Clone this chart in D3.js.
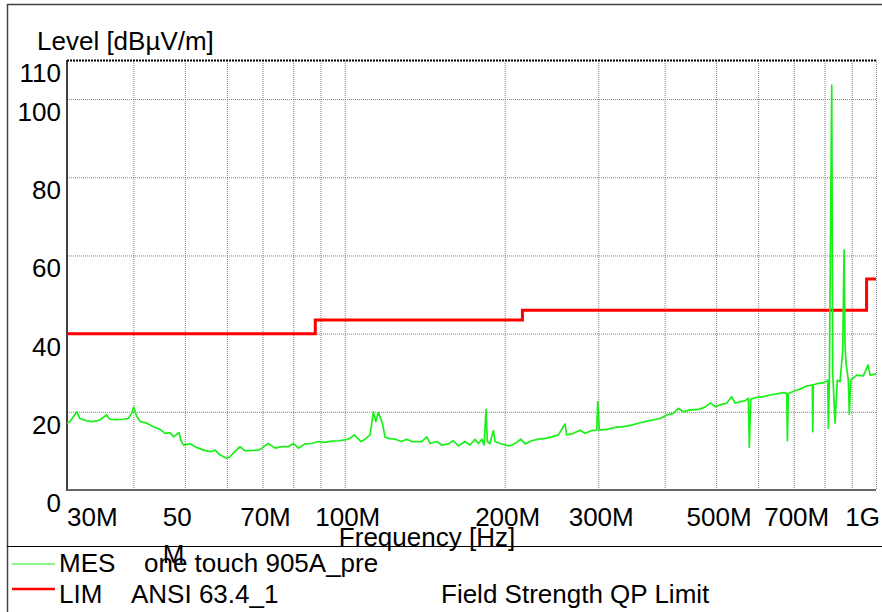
<!doctype html>
<html lang="en">
<head>
<meta charset="UTF-8">
<title>Level [dBµV/m]</title>
<style>
  body { margin: 0; background: #fff; }
  svg { display: block; font-family: "Liberation Sans", Arial, Helvetica, sans-serif; }
  .grid line { stroke: #808080; stroke-width: 1; stroke-dasharray: 1,1; }
  .grid .domain { display: none; }
  text { font-size: 26px; fill: #000; }
</style>
<script src="https://cdn.jsdelivr.net/npm/d3@7"></script>
</head>
<body>
<svg width="882" height="612"></svg>
<script>
var mesFreq = [30.0, 30.4, 31.3, 31.7, 32.7, 33.6, 34.6, 35.6, 36.1, 37.2, 38.3, 39.1, 39.7, 40.06, 40.6, 41.2,
  42.4, 43.6, 44.9, 45.9, 46.9, 47.6, 48.8, 49.1, 49.7, 51.1, 52.6, 54.2, 55.8, 57.0, 58.2, 59.9, 60.8, 62.1,
  63.5, 64.9, 66.8, 68.8, 69.8, 71.8, 73.9, 76.1, 78.3, 80.0, 81.8, 84.2, 86.7, 89.2, 91.8, 94.5, 97.3, 100.1,
  102.3, 104.2, 107.3, 109.2, 111.6, 113.2, 114.4, 115.7, 117.7, 119.1, 120.8, 124.4, 128.0, 130.8, 133.7,
  139.6, 142.7, 144.7, 149.0, 152.3, 156.7, 160.1, 163.6, 168.4, 172.1, 175.9, 178.5, 181.1, 182.9, 184.5,
  185.5, 187.7, 190.4, 191.9, 196.1, 200.4, 204.7, 209.2, 214.5, 218.5, 224.9, 231.5, 238.3, 245.3, 252.4,
  259.8, 261.7, 269.3, 277.2, 283.3, 291.7, 298.1, 299.4, 301.4, 311.3, 322.7, 334.5, 346.9, 359.6, 372.7,
  392.1, 403.7, 415.4, 424.5, 433.8, 446.6, 462.9, 476.6, 488.5, 497.7, 512.4, 523.6, 535.1, 542.8, 554.7,
  566.9, 575.0, 577.5, 581.0, 596.4, 613.7, 631.8, 650.4, 669.3, 679.2, 681.0, 683.9, 704.1, 719.5, 740.7,
  758.9, 760.2, 762.2, 778.9, 796.0, 811.3, 813.4, 816.9, 825.4, 829.0, 837.4, 845.7, 855.7, 865.8, 870.7,
  874.4, 878.2, 887.0, 890.9, 896.3, 920.0, 946.7, 966.2, 974.6, 1000];
var mesLevel = [17.1, 17.5, 20.0, 18.3, 17.7, 17.5, 17.9, 19.2, 18.1, 18.0, 18.1, 18.3, 19.6, 21.2, 18.8, 17.5,
  17.1, 16.2, 15.5, 14.5, 14.7, 13.6, 14.7, 12.8, 11.5, 11.8, 10.9, 10.2, 9.8, 10.2, 9.0, 8.1, 8.5, 9.8,
  11.1, 10.0, 10.1, 10.2, 10.7, 11.9, 10.7, 11.1, 11.1, 11.9, 10.7, 11.8, 11.9, 12.4, 12.2, 12.5, 12.6, 12.8,
  13.2, 14.1, 12.4, 13.0, 14.1, 20.0, 17.5, 19.8, 17.1, 13.5, 13.2, 13.0, 12.4, 13.0, 12.4,
  12.4, 13.6, 11.9, 12.4, 11.5, 11.8, 12.6, 11.3, 12.4, 11.5, 13.0, 11.9, 13.0, 11.5, 20.6,
  12.4, 11.9, 15.2, 12.4, 11.9, 11.5, 11.3, 11.9, 13.0, 11.8, 12.6, 13.0, 13.2, 13.6, 14.1,
  16.9, 14.1, 14.5, 15.3, 14.5, 15.2, 15.3, 22.6, 15.3, 15.5, 16.0, 16.2, 16.6, 17.2, 17.7,
  18.3, 19.2, 19.6, 20.9, 20.0, 20.5, 20.6, 21.2, 22.3, 21.3, 21.9, 22.2, 23.9, 22.2, 22.6,
  22.8, 23.5, 10.9, 23.2, 23.7, 23.9, 24.3, 24.6, 24.9, 24.7, 12.6, 24.7, 25.4, 25.8, 26.6,
  26.9, 14.9, 26.9, 27.3, 27.4, 28.1, 15.8, 27.7, 103.6, 29.9, 17.1, 28.1, 27.7, 35.8, 61.4,
  37.1, 32.4, 28.1, 19.4, 28.1, 29.4, 29.2, 32.0, 29.4, 29.7];

// limit line (step after)
var limFreq = [30, 88, 216, 960, 1000];
var limLevel = [40, 43.5, 46, 54, 54];

var yTicks = [0, 20, 40, 60, 80, 100, 110];
var yGrid = [20, 40, 60, 80, 100];
var xGrid = [40, 50, 60, 70, 80, 90, 100, 200, 300, 400, 500, 600, 700, 800, 900];
var xLabelFreq = [30, 50, 70, 100, 200, 300, 500, 700, 1000];
var xLabels = ['30M', '50\nM', '70M', '100M', '200M', '300M', '500M', '700M', '1G'];

var legendKeys = ['MES', 'LIM'];
var legendNames = ['one touch 905A_pre', 'ANSI 63.4_1'];
var legendNotes = ['', 'Field Strength QP Limit'];
var legendColors = ['#19f019', '#ff0000'];

var svg = d3.select('svg'),
  pLeft = 67, pRight = 876, pTop = 60, pBottom = 490;

var x = d3.scaleLog().domain([30, 1000]).range([pLeft, pRight]);
var y = d3.scaleLinear().domain([0, 110]).range([pBottom, pTop]);

// outer frame
svg.append('path')
  .attr('d', 'M7.5,612V4.5H882')
  .attr('fill', 'none')
  .attr('stroke', '#444')
  .attr('stroke-width', 1.5);

// grid
svg.append('g')
  .attr('class', 'grid')
  .attr('transform', 'translate(0,' + pBottom + ')')
  .call(d3.axisBottom(x).tickValues(xGrid).tickSize(-(pBottom - pTop)).tickFormat(''));
svg.append('g')
  .attr('class', 'grid')
  .attr('transform', 'translate(' + pLeft + ',0)')
  .call(d3.axisLeft(y).tickValues(yGrid).tickSize(-(pRight - pLeft)).tickFormat(''));

// plot frame
svg.append('line').attr('x1', pLeft).attr('x2', pRight).attr('y1', pTop + 0.5).attr('y2', pTop + 0.5)
  .attr('stroke', '#000').attr('stroke-width', 2).attr('stroke-dasharray', '2,1');
svg.append('line').attr('x1', pRight + 0.5).attr('x2', pRight + 0.5).attr('y1', pTop).attr('y2', pBottom)
  .attr('stroke', '#888').attr('stroke-dasharray', '1,1');
svg.append('line').attr('x1', pLeft).attr('x2', pLeft).attr('y1', pTop).attr('y2', pBottom + 1)
  .attr('stroke', '#000').attr('stroke-width', 1.5);
svg.append('line').attr('x1', pLeft).attr('x2', pRight).attr('y1', pBottom).attr('y2', pBottom)
  .attr('stroke', '#666').attr('stroke-width', 2);

svg.append('clipPath').attr('id', 'plot')
  .append('rect').attr('x', pLeft).attr('y', pTop).attr('width', pRight - pLeft).attr('height', pBottom - pTop);

// limit
var limLine = d3.line()
  .x(function(d, i) { return x(limFreq[i]); })
  .y(function(d) { return y(d); })
  .curve(d3.curveStepAfter);
svg.append('path')
  .datum(limLevel)
  .attr('clip-path', 'url(#plot)')
  .attr('fill', 'none')
  .attr('stroke', '#ff0000')
  .attr('stroke-width', 3)
  .attr('d', limLine);

// measurement
var mesLine = d3.line()
  .x(function(d, i) { return x(mesFreq[i]); })
  .y(function(d) { return y(d); });
svg.append('path')
  .datum(mesLevel)
  .attr('clip-path', 'url(#plot)')
  .attr('fill', 'none')
  .attr('stroke', '#19f019')
  .attr('stroke-width', 1.7)
  .attr('stroke-linejoin', 'round')
  .attr('d', mesLine);

// y labels
svg.selectAll('.ylab')
  .data(yTicks)
  .enter().append('text')
  .attr('class', 'ylab')
  .attr('x', 61)
  .attr('y', function(d) { return y(d) + 22; })
  .attr('text-anchor', 'end')
  .text(function(d) { return d; });

svg.append('text').attr('x', 37).attr('y', 50).text('Level [dBµV/m]');

// x labels
xLabelFreq.forEach(function(f, i) {
  var lines = xLabels[i].split('\n');
  var t = svg.append('text').attr('y', 526);
  if (i === 0) {
    t.attr('x', pLeft).attr('text-anchor', 'start');
  } else if (i === xLabelFreq.length - 1) {
    t.attr('x', 880).attr('text-anchor', 'end');
  } else if (lines.length > 1) {
    t.attr('x', x(f) - 22).attr('text-anchor', 'start');
  } else {
    t.attr('x', x(f) + 3).attr('text-anchor', 'middle');
  }
  lines.forEach(function(s, k) {
    t.append('tspan').attr('x', t.attr('x')).attr('dy', k === 0 ? 0 : 37).text(s);
  });
});

svg.append('text').attr('x', 427).attr('y', 546).attr('text-anchor', 'middle').text('Frequency [Hz]');

// legend
svg.append('line').attr('x1', 7).attr('x2', 882).attr('y1', 546.5).attr('y2', 546.5)
  .attr('stroke', '#000').attr('stroke-width', 1);

legendKeys.forEach(function(k, i) {
  var ly = 564 + i * 25;
  svg.append('line').attr('x1', 12).attr('x2', 55).attr('y1', ly).attr('y2', ly)
    .attr('stroke', legendColors[i]).attr('stroke-width', i === 0 ? 1.2 : 2.5);
  svg.append('text').attr('x', 59).attr('y', 572 + i * 31).text(k);
  svg.append('text').attr('x', i === 0 ? 144 : 131).attr('y', 572 + i * 31).text(legendNames[i]);
  if (legendNotes[i]) svg.append('text').attr('x', 441).attr('y', 572 + i * 31).text(legendNotes[i]);
});
</script>
</body>
</html>
